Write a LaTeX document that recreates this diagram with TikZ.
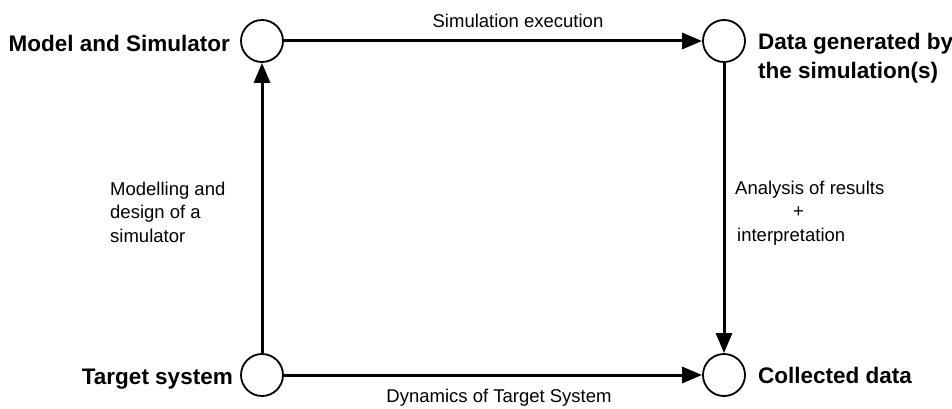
\documentclass[tikz,border=0pt]{standalone}
\usepackage{fontspec}
\setmainfont{Liberation Sans}
\usetikzlibrary{positioning,arrows.meta}

\begin{document}
\begin{tikzpicture}[
      x=1pt,y=1pt,
      every node/.style={inner sep=0pt},
      state/.style={circle,draw,line width=1.8pt,minimum size=42pt},
      title/.style={font=\fontsize{22.5}{28}\selectfont\bfseries},
      note/.style={font=\fontsize{18.5}{23.5}\selectfont,align=left},
      flow/.style={line width=3pt,-{Triangle[length=20pt,width=16pt]}}
    ]
      \useasboundingbox (0,0) rectangle (952,408);
      \node[state] (model) at (262,367) {};
      \node[state] (data) at (724,367) {};
      \node[state] (target) at (262,33) {};
      \node[state] (collected) at (724,33) {};

      % base anchor = baseline of the last line
      \node[title,anchor=base east] (modeltext) at (230,356) {Model and Simulator};
      \node[title,anchor=base west,align=left] (datatext) at (758,330)
        {Data generated by\\the simulation(s)};
      \node[title,anchor=base east] (targettext) at (233,24) {Target system};
      \node[title,anchor=base west] (collectedtext) at (758,25) {Collected data};

      \draw[flow] (model) -- (data);
      \draw[flow] (target) -- (model);
      \draw[flow] (data) -- (collected);
      \draw[flow] (target) -- (collected);

      \node[note] (exec) at (518,387) {Simulation execution};
      \node[note] (dynamics) at (499,10.5) {Dynamics of Target System};
      \node[note,anchor=base west] (modelling) at (110,166)
        {Modelling and\\design of a\\simulator};
      \node[note,anchor=base west] (analysis) at (735,167)
        {Analysis of results\\\hspace*{58pt}+\\\hspace*{2pt}interpretation};
    \end{tikzpicture}
\end{document}
